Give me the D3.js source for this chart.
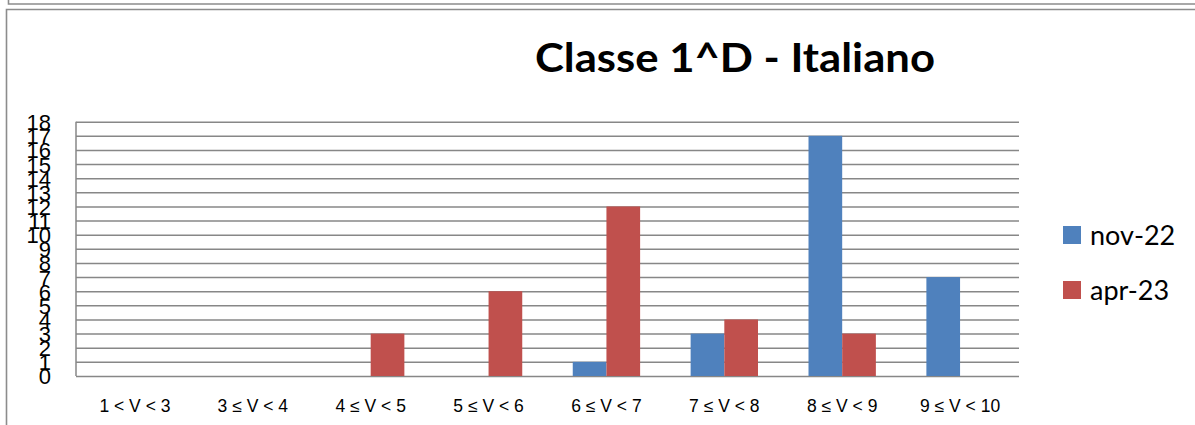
<!DOCTYPE html>
<html>
<head>
<meta charset="utf-8">
<script src="https://cdn.jsdelivr.net/npm/d3@7"></script>
<style>
  body { margin: 0; background: #fff; }
  svg { display: block; font-family: Lato, "Open Sans", sans-serif; }
</style>
</head>
<body>
<svg id="chart"></svg>
<script>
// data
const categories = ["1 < V < 3", "3 ≤ V < 4", "4 ≤ V < 5", "5 ≤ V < 6", "6 ≤ V < 7", "7 ≤ V < 8", "8 ≤ V < 9", "9 ≤ V < 10"];
const seriesNames = ["nov-22", "apr-23"];
const nov22 = [0, 0, 0, 0, 1, 3, 17, 7];
const apr23 = [0, 0, 3, 6, 12, 4, 3, 0];
const yTicks = d3.range(0, 19);
const colors = ["#4f81bd", "#c0504d"];

const W = 1195, H = 425;
const svg = d3.select("#chart").attr("width", W).attr("height", H);

// frames (bottom of the chart above, and this chart's border)
svg.append("path")
   .attr("d", "M8.5,-2 V4 H1200")
   .attr("fill", "none").attr("stroke", "#8c8c8c").attr("stroke-width", 1.6);
svg.append("path")
   .attr("d", "M6.5,430 V9.5 H1200")
   .attr("fill", "none").attr("stroke", "#8c8c8c").attr("stroke-width", 1.6);

const plot = { left: 76, right: 1019, top: 121.7, bottom: 376 };

const x = d3.scaleBand()
            .domain(categories)
            .range([plot.left, plot.right]);

// Excel gap width 150%
const groupW = x.bandwidth() * 2 / 3.5;
const x1 = d3.scaleBand()
             .domain(seriesNames)
             .range([0, groupW]);

const y = d3.scaleLinear()
            .domain([0, 18])
            .range([plot.bottom, plot.top]);

const color = d3.scaleOrdinal().domain(seriesNames).range(colors);

// gridlines + y labels
const yAxis = svg.append("g")
   .attr("transform", `translate(${plot.left},0)`)
   .call(d3.axisLeft(y).tickValues(yTicks).tickFormat(d3.format("d"))
           .tickSize(-(plot.right - plot.left)).tickPadding(25));
yAxis.select(".domain").remove();
yAxis.selectAll(".tick line").attr("stroke", "#878787").attr("stroke-width", 1.5);
yAxis.selectAll(".tick text")
     .attr("fill", "#000")
     .style("font-size", "22px")
     .attr("dy", "0.36em");

// left axis line
svg.append("line")
   .attr("x1", plot.left).attr("x2", plot.left)
   .attr("y1", y(18)).attr("y2", y(0))
   .attr("stroke", "#878787").attr("stroke-width", 1.5);

// x labels
const xAxis = svg.append("g")
   .attr("transform", `translate(0,${plot.bottom})`)
   .call(d3.axisBottom(x).tickSize(0));
xAxis.select(".domain").remove();
xAxis.selectAll(".tick text")
     .attr("y", 35.7).attr("dy", 0)
     .attr("fill", "#000")
     .style("font-size", "17.5px");

// bars
const rows = categories.map((c, i) => ({ cat: c, values: [nov22[i], apr23[i]] }));
svg.selectAll(".bar-group")
   .data(rows)
   .enter()
   .append("g")
   .attr("class", "bar-group")
   .attr("transform", d => `translate(${x(d.cat) + (x.bandwidth() - groupW) / 2},0)`)
   .selectAll("rect")
   .data(d => d.values.map((v, j) => ({ name: seriesNames[j], value: v })))
   .enter()
   .filter(d => d.value > 0)
   .append("rect")
   .attr("x", d => x1(d.name))
   .attr("y", d => y(d.value))
   .attr("width", x1.bandwidth())
   .attr("height", d => y(0) - y(d.value))
   .attr("fill", d => color(d.name));

// title
svg.append("text")
   .attr("x", 735).attr("y", 71.5)
   .attr("text-anchor", "middle")
   .attr("textLength", 400).attr("lengthAdjust", "spacingAndGlyphs")
   .style("font-size", "40px").style("font-weight", "bold")
   .text("Classe 1^D - Italiano");

// legend
const legend = svg.selectAll(".legend")
   .data(seriesNames)
   .enter()
   .append("g")
   .attr("class", "legend")
   .attr("transform", (d, i) => `translate(1063,${226 + i * 55})`);
legend.append("rect")
      .attr("width", 18).attr("height", 18)
      .attr("fill", d => color(d));
legend.append("text")
      .attr("x", 27).attr("y", 19)
      .style("font-size", "27px")
      .text(d => d);
</script>
</body>
</html>
